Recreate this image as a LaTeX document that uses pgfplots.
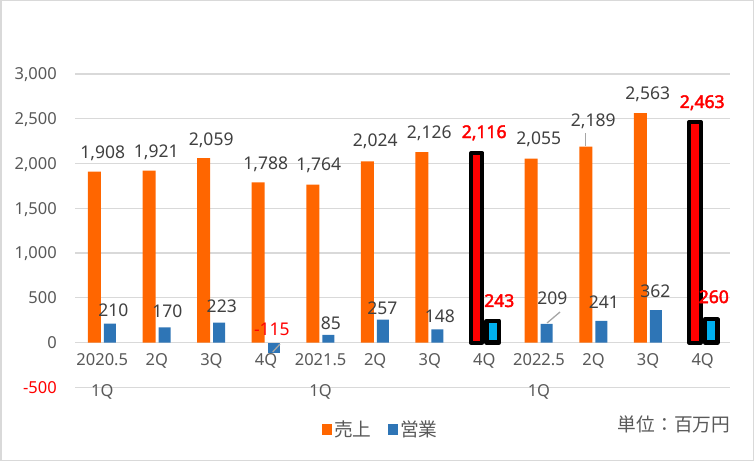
\documentclass[border=0pt]{standalone}
\usepackage{pgfplots}
\pgfplotsset{compat=1.18}
\usepackage{pgfplotstable}
\usepackage{fontspec}
\setmainfont{Noto Sans}
\newfontfamily\nsbold{Noto Sans}[FakeBold=2.5]
\newfontfamily\cjk{Noto Sans CJK JP}
\definecolor{cOrange}{HTML}{FF6600}
\definecolor{cBlue}{HTML}{2E75B6}
\definecolor{cCyan}{HTML}{00B0F0}
\definecolor{gridgray}{HTML}{D9D9D9}
\definecolor{labelgray}{HTML}{595959}
\definecolor{textgray}{HTML}{404040}
\definecolor{leadergray}{HTML}{A6A6A6}

\pgfplotstableread{
x y dx dy
0 1908 0.4 13.7
1 1921 -0.7 12.6
2 2059 -0.3 13.2
3 1788 -0.3 12.5
4 1764 -1.9 14.6
5 2024 0 14.4
6 2126 -0.6 14.2
8 2055 -0.3 13.6
9 2189 -0.3 19.6
10 2563 -0.4 14.1
}\salesN
\pgfplotstableread{
x y dx dy
7 2116 -0.2 15.1
11 2463 -0.5 14.1
}\salesH
\pgfplotstableread{
x y dx dy
0 210 11 7.7
1 170 10.4 9.3
2 223 10.3 10.5
4 85 10.2 4.9
5 257 7.1 5.5
6 148 10 6.3
8 209 13.3 18.8
9 241 10.3 12.9
10 362 7.2 13.1
}\profitN
\pgfplotstableread{
x y dx dy
3 -115 5.8 16.8
}\profitNeg
\pgfplotstableread{
x y dx dy
7 243 14.9 13.8
11 260 11.1 16.2
}\profitH

\pgfplotsset{
  lbl/.style={
    visualization depends on={\thisrow{dx} \as \dx},
    visualization depends on={\thisrow{dy} \as \dy},
    nodes near coords={\pgfmathprintnumber[1000 sep={,}, assume math mode=true]{\pgfplotspointmeta}},
    nodes near coords style={anchor=base, inner sep=0pt, xshift=\dx pt, yshift=\dy pt,
      font=\fontsize{17.5}{20}\selectfont, text=textgray},
  },
  lblred/.style={lbl, nodes near coords style={text=red, font=\nsbold\fontsize{17.5}{20}\selectfont}},
}

\begin{document}
\begin{tikzpicture}
\useasboundingbox (0,0) rectangle (754pt,461pt);
\draw[line width=1.5pt, draw=gridgray] (0.75pt,0.75pt) rectangle (753.25pt,460.25pt);
\begin{axis}[
  at={(75pt,73.75pt)}, anchor=south west,
  scale only axis, width=655pt, height=313.25pt,
  xmin=-0.5, xmax=11.5, ymin=-500, ymax=3000,
  clip=false,
  axis line style={draw=none},
  major tick length=0pt,
  ymajorgrids, grid style={line width=1.2pt, draw=gridgray},
  ytick={-500,0,500,1000,1500,2000,2500,3000},
  yticklabels={\textcolor{red}{-500},0,500,{1,000},{1,500},{2,000},{2,500},{3,000}},
  yticklabel style={anchor=base east, inner sep=0pt, xshift=-18pt, yshift=-5.9pt,
    font=\fontsize{16.5}{18}\selectfont, text=labelgray},
  xtick={0,1,2,3,4,5,6,7,8,9,10,11},
  xticklabels={2020.5,2Q,3Q,4Q,2021.5,2Q,3Q,4Q,2022.5,2Q,3Q,4Q},
  xticklabel style={anchor=base, inner sep=0pt, yshift=22.25pt,
    font=\fontsize{16.5}{18}\selectfont, text=labelgray},
  extra x ticks={0,4,8},
  extra x tick labels={1Q,1Q,1Q},
  extra x tick style={grid=none, xticklabel style={yshift=-31pt}},
  legend style={at={(0.3766,-0.1355)}, anchor=west, draw=none, fill=none,
    inner sep=0pt, outer sep=0pt, legend columns=-1,
    font=\cjk\fontsize{18.7}{20}\selectfont, text=labelgray,
    /tikz/every even column/.append style={column sep=14pt}},
]
\addplot[ybar, bar width=13pt, bar shift=-7.8pt, fill=cOrange, draw=none, lbl,
  legend image code/.code={\fill[cOrange] (0pt,-5.3pt) rectangle (10.6pt,5.3pt);}]
  table[x=x, y=y]{\salesN};
\addlegendentry{売上}
\addplot[ybar, bar width=12pt, bar shift=7.7pt, fill=cBlue, draw=none, lbl,
  legend image code/.code={\fill[cBlue] (0pt,-5.3pt) rectangle (10.6pt,5.3pt);}]
  table[x=x, y=y]{\profitN};
\addlegendentry{営業}
\addplot[forget plot, ybar, bar width=12pt, bar shift=7.7pt, fill=cBlue, draw=none, lbl,
  nodes near coords style={text=red}]
  table[x=x, y=y]{\profitNeg};
\addplot[forget plot, ybar, bar width=11.5pt, bar shift=-7.7pt, fill=red, draw=black,
  line width=4pt, line join=round, lblred]
  table[x=x, y=y]{\salesH};
\addplot[forget plot, ybar, bar width=12.5pt, bar shift=8.4pt, fill=cCyan, draw=black,
  line width=4.5pt, line join=round, lblred]
  table[x=x, y=y]{\profitH};
% leader lines
\draw[leadergray, line width=1.3pt] (axis cs:3.122,-106) -- (axis cs:3.256,-17);
\draw[leadergray, line width=1.3pt] (axis cs:8.148,218) -- (axis cs:8.386,341);
\draw[leadergray, line width=1.3pt] (axis cs:8.857,2196) -- (axis cs:8.857,2341);
\end{axis}
\node[font=\cjk\fontsize{18.7}{20}\selectfont, text=labelgray] at (674pt,36.3pt) {単位：百万円};
\end{tikzpicture}
\end{document}
